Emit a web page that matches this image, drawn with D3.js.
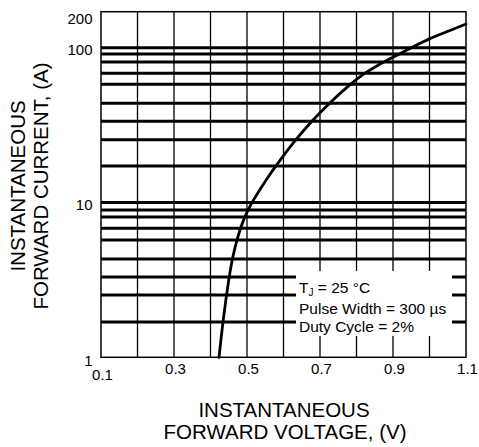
<!DOCTYPE html>
<html>
<head>
<meta charset="utf-8">
<script src="https://cdn.jsdelivr.net/npm/d3@7"></script>
<style>
  html, body { margin: 0; padding: 0; background: #fff; }
  svg { display: block; font-family: "Liberation Sans", Arial, sans-serif; }
</style>
</head>
<body>
<svg id="chart" width="479" height="447"></svg>
<script>
// ---- data ----
const voltage = [0.4233, 0.4353, 0.4507, 0.4605, 0.4737, 0.4923, 0.5129, 0.5567, 0.5781, 0.6315, 0.6767, 0.7247, 0.7822, 0.8219, 0.8534, 0.8836, 0.9151, 0.9521, 1.0014, 1.0507, 1.1];
const current = [1.0, 1.813, 3.287, 4.428, 5.962, 8.027, 10.03, 14.55, 17.14, 25.24, 33.48, 43.76, 58.05, 68.39, 75.89, 82.98, 90.7, 100.7, 115.1, 127.8, 142.4];
const xTicks = [0.1, 0.3, 0.5, 0.7, 0.9, 1.1];
const xGrid = [0.2, 0.3, 0.4, 0.5, 0.6, 0.7, 0.8, 0.9, 1.0];
const yTicks = [1, 10, 100, 200];
const yGrid = [1.69, 2.53, 3.30, 4.32, 5.73, 6.82, 8.06, 8.95, 10, 17.2, 25.4, 33.5, 43.8, 58.1, 68.4, 80.9, 91.2, 100];
const xDomain = [0.1, 1.1];
const yDomain = [1, 171];
const noteLines = ["Pulse Width = 300 \u00B5s", "Duty Cycle = 2%"];

// ---- layout ----
const L = 101, R = 466, T = 11.7, B = 357.3;
const svg = d3.select("#chart");
const x = d3.scaleLinear().domain(xDomain).range([L, R]);
const y = d3.scaleLog().domain(yDomain).range([B, T]).clamp(true);

// vertical grid
svg.append("g").selectAll("line").data(xGrid).join("line")
  .attr("x1", d => x(d)).attr("x2", d => x(d))
  .attr("y1", T).attr("y2", B)
  .attr("stroke", "#000").attr("stroke-width", 1.3);

// horizontal grid
svg.append("g").selectAll("line").data(yGrid).join("line")
  .attr("x1", L).attr("x2", R)
  .attr("y1", d => y(d)).attr("y2", d => y(d))
  .attr("stroke", "#000").attr("stroke-width", 3);

// annotation knockout box
svg.append("rect").attr("x", 296).attr("y", 271).attr("width", 156).attr("height", 65).attr("fill", "#fff");

// curve
const line = d3.line().x(d => x(d[0])).y(d => y(d[1])).curve(d3.curveBasis);
svg.append("path").datum(voltage.map((v, i) => [v, current[i]]))
  .attr("d", line).attr("fill", "none").attr("stroke", "#000")
  .attr("stroke-width", 2.8).attr("stroke-linecap", "round");

// frame
svg.append("rect").attr("x", L).attr("y", T).attr("width", R - L).attr("height", B - T)
  .attr("fill", "none").attr("stroke", "#000").attr("stroke-width", 1.5);

// y tick labels
svg.append("g").selectAll("text").data(yTicks).join("text")
  .attr("x", 92.5)
  .attr("y", d => Math.max(y(d), T + 4.5) + (d === 1 ? 8.5 : 7.5))
  .attr("text-anchor", "end").attr("font-size", 15).attr("fill", "#000")
  .text(d => d3.format("d")(d));

// x tick labels
svg.append("g").selectAll("text").data(xTicks).join("text")
  .attr("x", d => x(d) + 1.5)
  .attr("y", d => d === xTicks[0] ? 379.5 : 374)
  .attr("text-anchor", "middle").attr("font-size", 15).attr("fill", "#000")
  .text(d => d3.format(".1f")(d));

// annotation text
const note = svg.append("g").attr("font-size", 15.5).attr("fill", "#000");
const t1 = note.append("text").attr("x", 299).attr("y", 293.3);
t1.append("tspan").text("T");
t1.append("tspan").attr("font-size", 10).attr("dy", 3).text("J");
t1.append("tspan").attr("dy", -3).text(" = 25 \u00B0C");
note.selectAll("text.l").data(noteLines).join("text").attr("class", "l")
  .attr("x", 299).attr("y", (d, i) => 314 + i * 17.7).text(d => d);

// axis titles
const xt = svg.append("g").attr("font-size", 20.5).attr("fill", "#000").attr("text-anchor", "middle");
xt.append("text").attr("x", 284).attr("y", 417.3).text("INSTANTANEOUS");
xt.append("text").attr("x", 285).attr("y", 439.3).text("FORWARD VOLTAGE, (V)");

const yt = svg.append("g").attr("font-size", 20.5).attr("fill", "#000").attr("text-anchor", "middle");
yt.append("text").attr("transform", "translate(25,186) rotate(-90)").text("INSTANTANEOUS");
yt.append("text").attr("transform", "translate(48,186) rotate(-90)").text("FORWARD CURRENT, (A)");
</script>
</body>
</html>
